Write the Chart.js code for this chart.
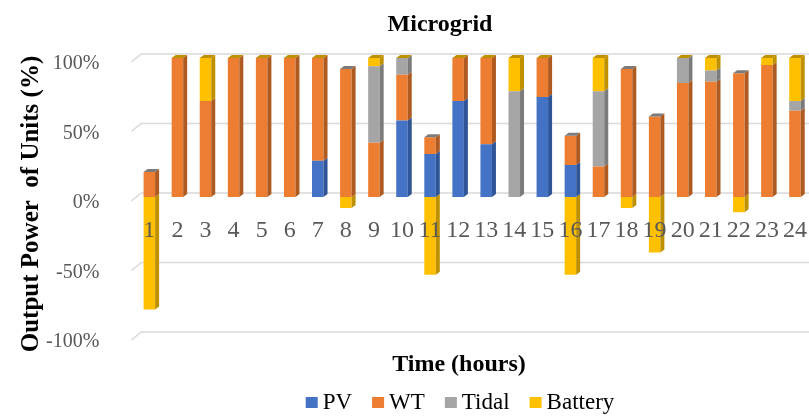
<!DOCTYPE html>
<html>
<head>
<meta charset="utf-8">
<title>Microgrid</title>
<script src="https://cdn.jsdelivr.net/npm/chart.js@4.4.1/dist/chart.umd.min.js"></script>
<style>
  html, body { margin: 0; padding: 0; background: #ffffff; }
  #wrap { position: relative; width: 809px; height: 417px; }
</style>
</head>
<body>
<div id="wrap"><canvas id="chart" width="809" height="417"></canvas></div>
<script>
// Hourly share of each unit's output power (%)
const hours   = ['1','2','3','4','5','6','7','8','9','10','11','12','13','14','15','16','17','18','19','20','21','22','23','24'];
const pv      = [0, 0, 0, 0, 0, 0, 26, 0, 0, 55, 31, 69, 38, 0, 72, 23, 0, 0, 0, 0, 0, 0, 0, 0];
const wt      = [18, 100, 69, 100, 100, 100, 74, 92, 39, 33, 12, 31, 62, 0, 28, 21, 22, 92, 58, 82, 83, 89, 95, 62];
const tidal   = [0, 0, 0, 0, 0, 0, 0, 0, 55, 12, 0, 0, 0, 76, 0, 0, 54, 0, 0, 18, 8, 0, 0, 7];
const battery = [-81, 0, 31, 0, 0, 0, 0, -8, 6, 0, -56, 0, 0, 24, 0, -56, 24, -8, -40, 0, 9, -11, 5, 31];
const yTicks  = [-100, -50, 0, 50, 100];

const seriesNames = ['PV', 'WT', 'Tidal', 'Battery'];
const FONT = "'Liberation Serif', 'Times New Roman', serif";
Chart.defaults.font.family = FONT;

// front / side-top colours of each unit
const faceColors = ['#4472C4', '#ED7D31', '#A5A5A5', '#FFC000'];
const sideColors = ['#2F5597', '#AE5A21', '#7B7B7B', '#BF9000'];

// depth of the extruded bars
const DEPTH_X = 4, DEPTH_Y = 3;

// Gridlines running along the back wall, with a short slanted run at the left side
const wallGrid = {
  id: 'wallGrid',
  beforeDatasetsDraw(chart) {
    const { ctx, chartArea } = chart;
    const ys = chart.scales.y;
    ctx.save();
    ctx.strokeStyle = '#D9D9D9';
    ctx.lineWidth = 1.6;
    ys.ticks.forEach(t => {
      const p = ys.getPixelForValue(t.value);
      ctx.beginPath();
      ctx.moveTo(chartArea.left - 4, p + 4);
      ctx.lineTo(chartArea.left + 6, p - 4);
      ctx.lineTo(chartArea.right, p - 4);
      ctx.stroke();
    });
    ctx.restore();
  }
};

// Side and top faces that give each stacked column its depth
const bar3d = {
  id: 'bar3d',
  afterDatasetsDraw(chart) {
    const { ctx } = chart;
    const sets = chart.data.datasets;
    const metas = sets.map((d, i) => chart.getDatasetMeta(i));
    ctx.save();
    // negative segments first so the positive stack sits over them
    [true, false].forEach(negPass => {
      metas.forEach((meta, di) => {
        meta.data.forEach((bar, i) => {
          const v = sets[di].data[i];
          if (v === 0 || (v < 0) !== negPass) return;
          const { x, y, base, width } = bar.getProps(['x', 'y', 'base', 'width'], true);
          const top = Math.min(y, base), bottom = Math.max(y, base);
          const r = x + width / 2;
          ctx.fillStyle = sideColors[di];
          ctx.beginPath();
          ctx.moveTo(r, top);
          ctx.lineTo(r + DEPTH_X, top - DEPTH_Y);
          ctx.lineTo(r + DEPTH_X, bottom - DEPTH_Y);
          ctx.lineTo(r, bottom);
          ctx.closePath();
          ctx.fill();
        });
      });
    });
    // cap of each column, in the colour of its top series
    const ys = chart.scales.y;
    chart.data.labels.forEach((lab, i) => {
      let topIdx = -1, sum = 0;
      sets.forEach((ds, di) => {
        const v = ds.data[i];
        if (v >= 0) { topIdx = di; sum += v; }
      });
      if (topIdx < 0) return;
      const bar = metas[topIdx].data[i];
      const { x, width } = bar.getProps(['x', 'width'], true);
      const t = ys.getPixelForValue(sum);
      const l = x - width / 2, r = x + width / 2;
      ctx.fillStyle = sideColors[topIdx];
      ctx.beginPath();
      ctx.moveTo(l, t);
      ctx.lineTo(r, t);
      ctx.lineTo(r + DEPTH_X, t - DEPTH_Y);
      ctx.lineTo(l + DEPTH_X, t - DEPTH_Y);
      ctx.closePath();
      ctx.fill();
    });
    ctx.restore();
  }
};

// Chart heading, axis titles and the series key
const captions = {
  id: 'captions',
  afterDraw(chart) {
    const { ctx } = chart;
    ctx.save();
    ctx.fillStyle = '#000000';
    ctx.textBaseline = 'alphabetic';
    ctx.textAlign = 'center';
    ctx.font = 'bold 24px ' + FONT;
    ctx.fillText('Microgrid', 440, 31);
    ctx.fillText('Time (hours)', 459, 371);

    ctx.save();
    ctx.translate(38, 204);
    ctx.rotate(-Math.PI / 2);
    ctx.font = 'bold 25px ' + FONT;
    ctx.fillText('Output Power  of Units (%)', 0, 0);
    ctx.restore();

    // series key
    ctx.font = '23px ' + FONT;
    ctx.textAlign = 'left';
    ctx.textBaseline = 'middle';
    const box = 12, gapText = 5, gapItem = 20, cy = 402;
    const widths = chart.data.datasets.map(ds => box + gapText + ctx.measureText(ds.label).width);
    const total = widths.reduce((a, b) => a + b, 0) + gapItem * (widths.length - 1);
    let xPos = 460 - total / 2;
    chart.data.datasets.forEach((ds, di) => {
      ctx.fillStyle = ds.backgroundColor;
      ctx.fillRect(xPos, cy - 5, box, 11);
      ctx.fillStyle = '#000000';
      ctx.fillText(ds.label, xPos + box + gapText, cy + 1);
      xPos += widths[di] + gapItem;
    });
    ctx.restore();
  }
};

const seriesData = [pv, wt, tidal, battery];

new Chart(document.getElementById('chart'), {
  type: 'bar',
  data: {
    labels: hours,
    datasets: seriesNames.map((name, i) => ({
      label: name,
      data: seriesData[i],
      backgroundColor: faceColors[i],
      borderWidth: 0,
      barPercentage: 0.41,
      categoryPercentage: 1.0
    }))
  },
  options: {
    responsive: false,
    animation: false,
    devicePixelRatio: 1,
    layout: { padding: { top: 58, bottom: 81, left: 10, right: 0 } },
    plugins: {
      legend: { display: false },
      title: { display: false },
      tooltip: { enabled: false }
    },
    scales: {
      x: {
        stacked: true,
        position: { y: 0 },
        grid: { display: false, drawTicks: false },
        border: { display: false },
        // the hour labels sit inside the plot, so they need no side margin
        afterFit: scale => { scale.paddingLeft = 0; scale.paddingRight = 0; },
        ticks: {
          z: 1,
          color: '#595959',
          font: { size: 24, family: FONT },
          padding: 19,
          maxRotation: 0,
          autoSkip: false
        }
      },
      y: {
        stacked: true,
        min: yTicks[0],
        max: yTicks[yTicks.length - 1],
        afterBuildTicks: scale => { scale.ticks = yTicks.map(v => ({ value: v })); },
        // vertical room is set by the layout padding alone
        afterFit: scale => { scale.paddingTop = 0; scale.paddingBottom = 0; },
        grid: { display: false, drawTicks: false },
        border: { display: false },
        ticks: {
          color: '#595959',
          font: { size: 20, family: FONT },
          padding: 36,
          labelOffset: 6,
          callback: v => v + '%'
        }
      }
    }
  },
  plugins: [wallGrid, bar3d, captions]
});
</script>
</body>
</html>
